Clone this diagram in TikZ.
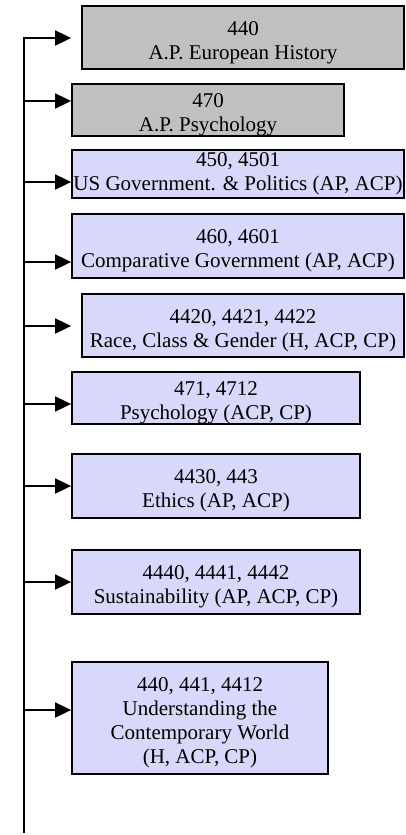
\documentclass[tikz,border=0pt]{standalone}
\usepackage{fontspec}
\setmainfont{Liberation Serif}
\usetikzlibrary{arrows.meta}
\definecolor{boxgray}{RGB}{192,192,192}
\definecolor{boxlav}{RGB}{216,216,250}
\newcommand\dnstrut{\rule{0pt}{24pt}}
\tikzset{
  course/.style={draw=black, line width=1.8pt, inner sep=0pt, align=center,
    font=\fontsize{21pt}{24pt}\selectfont, anchor=center},
  grayc/.style={course, fill=boxgray},
  lavc/.style={course, fill=boxlav},
  feed/.style={line width=1.8pt, line join=miter, -{Triangle[length=16pt,width=15pt]}},
}
\begin{document}
\begin{tikzpicture}[x=1pt,y=-1pt]
\useasboundingbox (0,0) rectangle (405,835);
% boxes
\node[grayc, minimum width=322pt, minimum height=63pt] (b1) at (243,37.5) {\dnstrut 440\\A.P. European History};
\node[grayc, minimum width=272pt, minimum height=48pt] (b2) at (208,110) {\dnstrut 470\\A.P. Psychology};
\node[lavc, minimum width=332pt, minimum height=48pt] (b3) at (238,174) {450, 4501\\US Government. \& Politics (AP, ACP)};
\node[lavc, minimum width=332pt, minimum height=64pt] (b4) at (238,246) {\dnstrut 460, 4601\\Comparative Government (AP, ACP)};
\node[lavc, minimum width=322pt, minimum height=63pt] (b5) at (243,325.5) {\dnstrut 4420, 4421, 4422\\Race, Class \& Gender (H, ACP, CP)};
\node[lavc, minimum width=288pt, minimum height=48pt] (b6) at (216,398) {\dnstrut 471, 4712\\Psychology (ACP, CP)};
\node[lavc, minimum width=288pt, minimum height=64pt] (b7) at (216,486) {\dnstrut 4430, 443\\Ethics (AP, ACP)};
\node[lavc, minimum width=288pt, minimum height=64pt] (b8) at (216,582) {\dnstrut 4440, 4441, 4442\\Sustainability (AP, ACP, CP)};
\node[lavc, minimum width=256pt, minimum height=112pt] (b9) at (200,718) {\dnstrut 440, 441, 4412\\Understanding the\\Contemporary World\\(H, ACP, CP)};
% trunk points
\coordinate (t1) at (24,38);
\coordinate (t2) at (24,101);
\coordinate (t3) at (24,182);
\coordinate (t4) at (24,262);
\coordinate (t5) at (24,326);
\coordinate (t6) at (24,404);
\coordinate (t7) at (24,486);
\coordinate (t8) at (24,582);
\coordinate (t9) at (24,710);
\coordinate (bot) at (24,833);
% connectors
\draw[feed, shorten >=10pt] (bot) -- (t1) -- (t1 -| b1.west);
\draw[feed] (t2) -- (t2 -| b2.west);
\draw[feed] (t3) -- (t3 -| b3.west);
\draw[feed] (t4) -- (t4 -| b4.west);
\draw[feed, shorten >=10pt] (t5) -- (t5 -| b5.west);
\draw[feed] (t6) -- (t6 -| b6.west);
\draw[feed] (t7) -- (t7 -| b7.west);
\draw[feed] (t8) -- (t8 -| b8.west);
\draw[feed] (t9) -- (t9 -| b9.west);
\end{tikzpicture}
\end{document}
